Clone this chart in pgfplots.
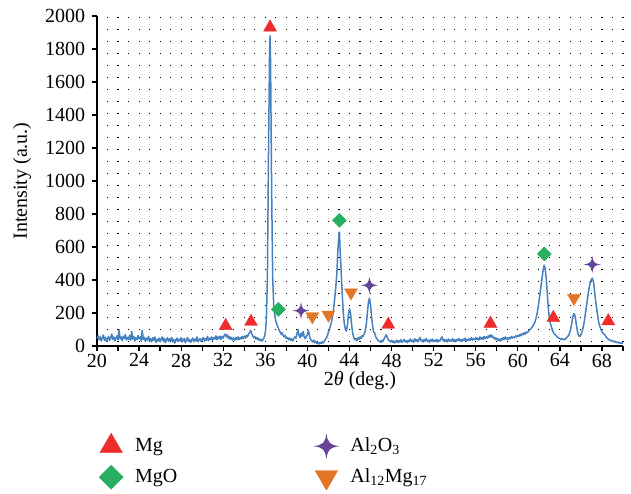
\documentclass[border=0pt]{standalone}
\usepackage{fontspec}
\setmainfont{Liberation Serif}
\usepackage{pgfplots}
\pgfplotsset{compat=1.18}
\definecolor{lineblue}{RGB}{70,128,190}
\definecolor{mgred}{RGB}{238,44,44}
\definecolor{mgogreen}{RGB}{39,174,96}
\definecolor{alpurple}{RGB}{103,68,153}
\definecolor{alorange}{RGB}{226,118,38}
\pgfdeclareplotmark{star4}{%
 \pgfpathmoveto{\pgfqpoint{0pt}{\pgfplotmarksize}}%
 \pgfpathcurveto{\pgfqpoint{0.1\pgfplotmarksize}{0.25\pgfplotmarksize}}{\pgfqpoint{0.25\pgfplotmarksize}{0.1\pgfplotmarksize}}{\pgfqpoint{\pgfplotmarksize}{0pt}}%
 \pgfpathcurveto{\pgfqpoint{0.25\pgfplotmarksize}{-0.1\pgfplotmarksize}}{\pgfqpoint{0.1\pgfplotmarksize}{-0.25\pgfplotmarksize}}{\pgfqpoint{0pt}{-\pgfplotmarksize}}%
 \pgfpathcurveto{\pgfqpoint{-0.1\pgfplotmarksize}{-0.25\pgfplotmarksize}}{\pgfqpoint{-0.25\pgfplotmarksize}{-0.1\pgfplotmarksize}}{\pgfqpoint{-\pgfplotmarksize}{0pt}}%
 \pgfpathcurveto{\pgfqpoint{-0.25\pgfplotmarksize}{0.1\pgfplotmarksize}}{\pgfqpoint{-0.1\pgfplotmarksize}{0.25\pgfplotmarksize}}{\pgfqpoint{0pt}{\pgfplotmarksize}}%
 \pgfpathclose
 \pgfusepathqfill}
\begin{document}
\fontsize{20}{24}\selectfont
\begin{tikzpicture}
\useasboundingbox (-97pt,-148pt) rectangle (534pt,346pt);
\begin{axis}[
  at={(0pt,0pt)}, anchor=south west,
  scale only axis, width=526pt, height=330pt,
  xmin=20, xmax=70, ymin=0, ymax=2000,
  axis lines*=left,
  axis line style={line width=1.6pt, black},
  tick align=outside,
  major tick length=5pt, minor tick length=0pt,
  tick style={line width=1.3pt, black},
  xtick={20,22,...,70},
  xticklabels={20,,24,,28,,32,,36,,40,,44,,48,,52,,56,,60,,64,,68,,},
  xticklabel style={inner sep=2.5pt},
  minor x tick num=1,
  ytick={0,200,...,2000},
  yticklabel style={/pgf/number format/1000 sep={}, /pgf/number format/assume math mode=true},
  xmajorgrids=true, xminorgrids=true,
  major grid style={black, line width=1.1pt, dash pattern=on 1.1pt off 10.9pt, dash phase=8.25pt},
  minor grid style={black, line width=1.1pt, dash pattern=on 1.1pt off 10.9pt, dash phase=8.25pt},
  every axis x label/.style={at={(axis description cs:0.5,-0.106)}, anchor=center},
  every axis y label/.style={at={(axis description cs:-0.1426,0.5)}, rotate=90, anchor=center},
  xlabel={2{\itshape θ} (deg.)},
  ylabel={Intensity (a.u.)},
  clip=false,
  legend columns=2,
  transpose legend,
  legend cell align=left,
  legend image code/.code={\path[draw=none,fill=none] (-13pt,-11pt) rectangle (13pt,11pt); \draw[#1] plot coordinates {(0pt,0pt)};},
  legend style={draw=none, fill=none, at={(axis description cs:0,-0.2606)}, anchor=north west,
    inner sep=1pt, nodes={inner sep=1pt, draw=none}, row sep=6pt,
    /tikz/every odd column/.append style={column sep=10pt},
    /tikz/every even column/.append style={column sep=135pt}},
]
\addplot[forget plot, lineblue, line width=1.5pt, line join=round] coordinates {
(20.0,45) (20.1,62) (20.2,38) (20.3,55) (20.4,30) (20.5,48) (20.6,66) (20.7,35) (20.8,52) (20.9,28)
(21.0,44) (21.1,58) (21.2,33) (21.3,50) (21.4,72) (21.5,40) (21.6,55) (21.7,30) (21.8,47) (21.9,62)
(22.0,38) (22.1,98) (22.2,42) (22.3,55) (22.4,32) (22.5,60) (22.6,45) (22.7,70) (22.8,36) (22.9,52)
(23.0,40) (23.1,64) (23.2,35) (23.3,88) (23.4,42) (23.5,58) (23.6,30) (23.7,50) (23.8,38) (23.9,62)
(24.0,44) (24.1,55) (24.2,30) (24.3,95) (24.4,40) (24.5,52) (24.6,28) (24.7,48) (24.8,36) (24.9,58)
(25.0,32) (25.1,45) (25.2,25) (25.3,50) (25.4,35) (25.5,55) (25.6,22) (25.7,40) (25.8,30) (25.9,48)
(26.0,26) (26.1,42) (26.2,55) (26.3,30) (26.4,45) (26.5,20) (26.6,38) (26.7,50) (26.8,28) (26.9,44)
(27.0,33) (27.1,52) (27.2,25) (27.3,40) (27.4,18) (27.5,36) (27.6,48) (27.7,27) (27.8,42) (27.9,30)
(28.0,50) (28.1,24) (28.2,38) (28.3,46) (28.4,20) (28.5,35) (28.6,52) (28.7,28) (28.8,40) (28.9,22)
(29.0,37) (29.1,48) (29.2,26) (29.3,42) (29.4,30) (29.5,55) (29.6,25) (29.7,38) (29.8,45) (29.9,28)
(30.0,40) (30.1,52) (30.2,30) (30.3,45) (30.4,35) (30.5,58) (30.6,32) (30.7,48) (30.8,38) (30.9,55)
(31.0,36) (31.1,50) (31.2,42) (31.3,62) (31.4,38) (31.5,55) (31.6,44) (31.7,60) (31.8,40) (31.9,58)
(32.0,48) (32.1,66) (32.2,72) (32.3,55) (32.4,68) (32.5,45) (32.6,58) (32.7,40) (32.8,52) (32.9,36)
(33.0,48) (33.1,35) (33.2,52) (33.3,40) (33.4,55) (33.5,38) (33.6,50) (33.7,42) (33.8,58) (33.9,45)
(34.0,60) (34.1,48) (34.2,65) (34.3,55) (34.4,72) (34.5,80) (34.6,95) (34.7,78) (34.8,62) (34.9,50)
(35.0,58) (35.1,42) (35.2,52) (35.3,38) (35.4,45) (35.5,32) (35.6,40) (35.7,30) (35.8,42) (35.9,55)
(36.0,80) (36.1,160) (36.2,420) (36.3,1150) (36.4,1760) (36.45,1880) (36.5,1720) (36.6,950) (36.7,420) (36.8,240) (36.9,185)
(37.0,150) (37.1,130) (37.2,115) (37.3,98) (37.4,85) (37.5,72) (37.6,80) (37.7,62) (37.8,55) (37.9,65)
(38.0,45) (38.1,52) (38.2,38) (38.3,48) (38.4,35) (38.5,44) (38.6,30) (38.7,42) (38.8,55) (38.9,48)
(39.0,72) (39.1,100) (39.2,65) (39.3,50) (39.4,78) (39.5,60) (39.6,88) (39.7,55) (39.8,45) (39.9,58)
(40.0,70) (40.1,95) (40.2,62) (40.3,40) (40.4,32) (40.5,25) (40.6,35) (40.7,20) (40.8,28) (40.9,15)
(41.0,22) (41.1,12) (41.2,20) (41.3,15) (41.4,25) (41.5,18) (41.6,30) (41.7,38) (41.8,50) (41.9,62)
(42.0,85) (42.1,100) (42.2,125) (42.3,150) (42.4,185) (42.5,230) (42.6,290) (42.7,360) (42.8,440) (42.9,580)
(43.0,685) (43.05,690) (43.1,600) (43.2,460) (43.3,330) (43.4,210) (43.5,140) (43.6,105) (43.7,90) (43.8,125) (43.9,190)
(44.0,225) (44.1,200) (44.2,130) (44.3,80) (44.4,52) (44.5,38) (44.6,45) (44.7,32) (44.8,50) (44.9,40)
(45.0,55) (45.1,45) (45.2,62) (45.3,58) (45.4,75) (45.5,90) (45.6,130) (45.7,200) (45.8,265) (45.9,290)
(46.0,250) (46.1,180) (46.2,120) (46.3,85) (46.4,78) (46.5,55) (46.6,45) (46.7,35) (46.8,28) (46.9,30)
(47.0,22) (47.1,35) (47.2,28) (47.3,45) (47.4,58) (47.5,68) (47.6,50) (47.7,38) (47.8,30) (47.9,25)
(48.0,35) (48.1,22) (48.2,30) (48.3,18) (48.4,28) (48.5,35) (48.6,20) (48.7,32) (48.8,24) (48.9,38)
(49.0,22) (49.1,30) (49.2,40) (49.3,25) (49.4,33) (49.5,20) (49.6,36) (49.7,26) (49.8,42) (49.9,28)
(50.0,35) (50.1,22) (50.2,45) (50.3,30) (50.4,38) (50.5,25) (50.6,40) (50.7,52) (50.8,30) (50.9,36)
(51.0,24) (51.1,40) (51.2,30) (51.3,45) (51.4,28) (51.5,36) (51.6,22) (51.7,38) (51.8,30) (51.9,42)
(52.0,26) (52.1,35) (52.2,28) (52.3,40) (52.4,24) (52.5,36) (52.6,30) (52.7,45) (52.8,55) (52.9,32)
(53.0,40) (53.1,28) (53.2,38) (53.3,25) (53.4,42) (53.5,30) (53.6,36) (53.7,28) (53.8,44) (53.9,30)
(54.0,38) (54.1,26) (54.2,40) (54.3,32) (54.4,46) (54.5,30) (54.6,38) (54.7,28) (54.8,42) (54.9,34)
(55.0,48) (55.1,30) (55.2,40) (55.3,32) (55.4,45) (55.5,35) (55.6,50) (55.7,36) (55.8,44) (55.9,38)
(56.0,52) (56.1,40) (56.2,48) (56.3,36) (56.4,55) (56.5,42) (56.6,50) (56.7,40) (56.8,58) (56.9,45)
(57.0,55) (57.1,48) (57.2,62) (57.3,52) (57.4,68) (57.5,55) (57.6,62) (57.7,45) (57.8,52) (57.9,38)
(58.0,48) (58.1,35) (58.2,42) (58.3,30) (58.4,45) (58.5,36) (58.6,50) (58.7,40) (58.8,55) (58.9,42)
(59.0,50) (59.1,38) (59.2,52) (59.3,45) (59.4,58) (59.5,48) (59.6,55) (59.7,50) (59.8,62) (59.9,55)
(60.0,65) (60.1,58) (60.2,70) (60.3,62) (60.4,75) (60.5,68) (60.6,80) (60.7,72) (60.8,85) (60.9,80)
(61.0,88) (61.1,95) (61.2,102) (61.3,110) (61.4,118) (61.5,128) (61.6,140) (61.7,160) (61.8,185) (61.9,220)
(62.0,265) (62.1,310) (62.2,360) (62.3,410) (62.4,455) (62.5,490) (62.6,470) (62.7,410) (62.8,320) (62.9,230)
(63.0,170) (63.1,135) (63.2,115) (63.3,95) (63.4,80) (63.5,72) (63.6,65) (63.7,58) (63.8,52) (63.9,48)
(64.0,45) (64.1,40) (64.2,44) (64.3,38) (64.4,42) (64.5,40) (64.6,48) (64.7,55) (64.8,62) (64.9,75)
(65.0,95) (65.1,125) (65.2,165) (65.3,195) (65.4,192) (65.5,160) (65.6,115) (65.7,80) (65.8,62) (65.9,58)
(66.0,68) (66.1,85) (66.2,110) (66.3,140) (66.4,185) (66.5,230) (66.6,275) (66.7,320) (66.8,360) (66.9,390)
(67.0,405) (67.1,410) (67.2,385) (67.3,330) (67.4,270) (67.5,225) (67.6,180) (67.7,140) (67.8,120) (67.9,100)
(68.0,88) (68.1,78) (68.2,72) (68.3,65) (68.4,55) (68.5,48) (68.6,42) (68.7,38) (68.8,32) (68.9,35)
(69.0,28) (69.1,30) (69.2,24) (69.3,28) (69.4,20) (69.5,25) (69.6,18) (69.7,22) (69.8,15) (69.9,20) (70.0,16)
};
\addplot[only marks, mark=triangle*, mark size=7.5pt, color=mgred, legend image post style={mark size=13pt}] coordinates {
(32.23,122) (34.64,147) (36.45,1931) (47.69,130) (57.4,136) (63.38,171) (68.6,151)};
\addlegendentry{Mg}
\addplot[only marks, mark=square*, mark size=5pt, mark options={rotate=45}, color=mgogreen, legend image post style={mark size=8.5pt}] coordinates {
(37.24,222) (43.04,762) (62.52,558)};
\addlegendentry{MgO}
\addplot[only marks, mark=star4, mark size=8.5pt, color=alpurple, legend image post style={mark size=13pt}] coordinates {
(39.39,214) (45.89,368) (67.08,494)};
\addlegendentry{Al\textsubscript{2}O\textsubscript{3}}
\addplot[only marks, mark=triangle*, mark size=7.5pt, mark options={rotate=180}, color=alorange, legend image post style={mark size=13pt}] coordinates {
(40.47,179) (42.0,189) (44.14,324) (65.34,290)};
\addlegendentry{Al\textsubscript{12}Mg\textsubscript{17}}
\end{axis}
\end{tikzpicture}
\end{document}
